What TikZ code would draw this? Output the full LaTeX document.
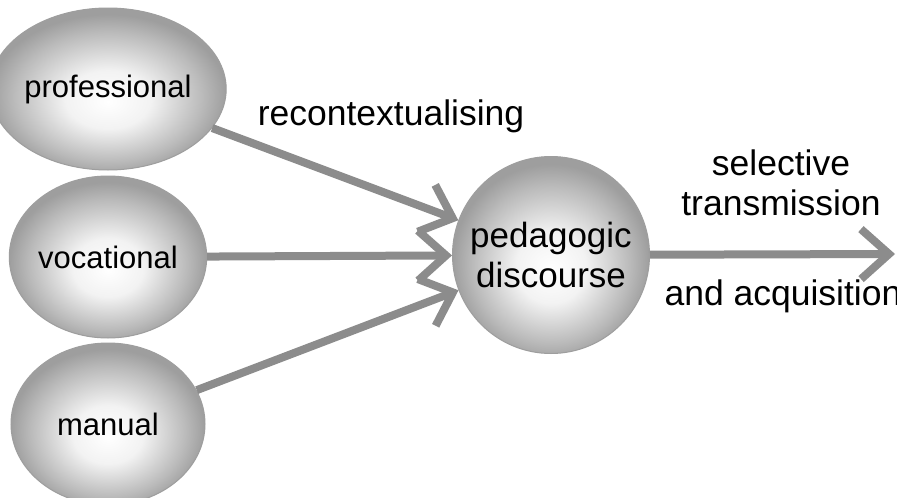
\documentclass[tikz,border=0pt]{standalone}
\usepackage{fontspec}
\setmainfont{Liberation Sans}
\usetikzlibrary{arrows.meta,shapes.geometric}

\pgfdeclareradialshading{discball}{\pgfpoint{0bp}{-4bp}}{color(0bp)=(white); color(9bp)=(black!5); color(20bp)=(black!27); color(25bp)=(black!38); color(50bp)=(black!38)}

\tikzset{
  codeball/.style={ellipse,shading=discball,draw=black!38,line width=1pt,
    minimum width=194pt,minimum height=162pt,inner sep=0pt,
    font=\fontsize{31}{36}\selectfont},
  discourseball/.style={circle,shading=discball,draw=black!38,line width=1pt,
    minimum size=197pt,inner sep=0pt,align=center,
    font=\fontsize{35}{40}\selectfont},
  flow/.style={draw=black!45,line width=8pt,
    -{Straight Barb[length=28pt,width=50pt,line width=8pt]}},
  flowlabel/.style={anchor=base,align=center,font=\fontsize{35.5}{40}\selectfont}
}

\begin{document}
\begin{tikzpicture}[x=10pt,y=10pt]
\useasboundingbox[fill=white] (0,0) rectangle (89.7,-49.8);

% codes
\node[codeball] (CodeProfessional) at (10.8,-8.9) {professional};
\node[codeball] (CodeVocational) at (10.8,-25.7) {vocational};
\node[codeball] (CodeManual) at (10.8,-42.4) {manual};

% discourse
\node[discourseball] (Pedagogic) at (55.1,-25.5) {pedagogic\\discourse};
\coordinate (Transmission) at (89.5,-25.4);

\draw[flow] (CodeProfessional) to (Pedagogic);
\draw[flow] (CodeVocational) to (Pedagogic);
\draw[flow] (CodeManual) to (Pedagogic);
\draw[flow] (Pedagogic) to (Transmission);

\node[flowlabel] (Recontext) at (39.1,-12.5) {recontextualising};
\node[flowlabel] (Selective) at (78.1,-21.5) {selective\\transmission};
\node[flowlabel] (Acquisition) at (78.3,-30.5) {and acquisition};

\end{tikzpicture}
\end{document}
